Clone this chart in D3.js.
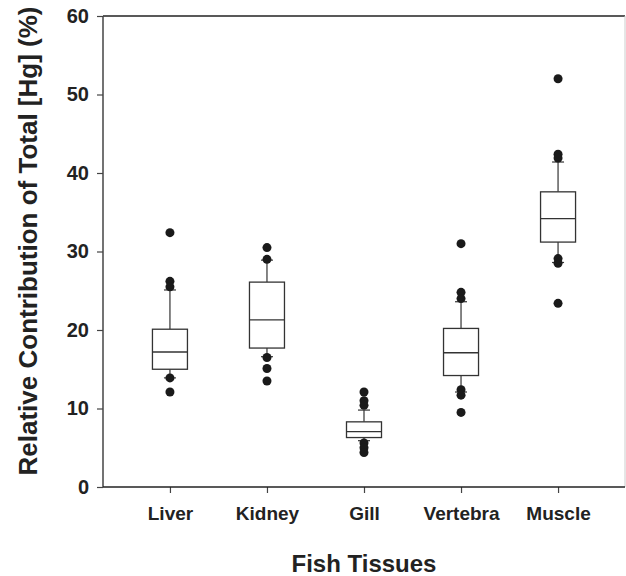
<!DOCTYPE html>
<html>
<head>
<meta charset="utf-8">
<script src="https://cdn.jsdelivr.net/npm/d3@7"></script>
<style>
  body { margin: 0; background: #fff; }
  svg text { font-family: "Liberation Sans", Arial, sans-serif; font-weight: bold; fill: #222; }
</style>
</head>
<body>
<div id="chart"></div>
<script>
// box plot values (%)
var categories = ["Liver", "Kidney", "Gill", "Vertebra", "Muscle"];
var whiskerLow  = [13.9, 16.6, 5.9, 12.1, 28.6];
var q1          = [15.0, 17.7, 6.3, 14.2, 31.2];
var median      = [17.2, 21.3, 7.05, 17.1, 34.2];
var q3          = [20.1, 26.1, 8.3, 20.2, 37.6];
var whiskerHigh = [25.1, 28.9, 9.8, 23.6, 41.4];
var outliers = [
  [32.4, 26.2, 25.5, 13.9, 12.1],
  [30.5, 29.0, 16.5, 15.1, 13.5],
  [12.1, 11.0, 10.4, 5.6, 5.0, 4.4],
  [31.0, 24.8, 24.0, 12.4, 11.7, 9.5],
  [52.0, 42.4, 41.9, 29.1, 28.5, 23.4]
];
var yTicks = [0, 10, 20, 30, 40, 50, 60];

plot_box_chart("#chart", 626, 576);

// draws the box plot into htmlObjectId
function plot_box_chart(htmlObjectId, width, height) {

    var margin = {top: 16, right: 1, bottom: 89, left: 103};
    var plotW = width - margin.left - margin.right,
        plotH = height - margin.top - margin.bottom;

    var boxes = categories.map(function(c, i) {
        return {name: c, lo: whiskerLow[i], q1: q1[i], med: median[i],
                q3: q3[i], hi: whiskerHigh[i], out: outliers[i]};
    });

    var y = d3.scaleLinear().domain([0, 60]).range([plotH, 0]);
    var x = d3.scalePoint().domain(categories).range([0, plotW]).padding(0.69);

    var boxW = 35, capW = 12;

    var svg = d3.select(htmlObjectId).append("svg")
        .attr("width", width)
        .attr("height", height);

    var g = svg.append("g")
        .attr("transform", "translate(" + margin.left + "," + margin.top + ")");

    // frame: top dark, right faint
    g.append("line").attr("x1", 0).attr("x2", plotW).attr("y1", 0).attr("y2", 0)
        .attr("stroke", "#222").attr("stroke-width", 1.5);
    g.append("line").attr("x1", plotW).attr("x2", plotW).attr("y1", 0).attr("y2", plotH)
        .attr("stroke", "#ccc").attr("stroke-width", 1);

    // axes
    var yaxis = d3.axisLeft(y).tickValues(yTicks).tickSize(6).tickPadding(8);
    var xaxis = d3.axisBottom(x).tickSize(6).tickPadding(13);

    var gy = g.append("g").attr("class", "axis y").call(yaxis);
    gy.selectAll("text").style("font-size", "20px");

    var gx = g.append("g").attr("class", "axis x")
        .attr("transform", "translate(0," + plotH + ")")
        .call(xaxis);
    gx.selectAll("text").style("font-size", "19px").attr("dy", "0.75em");

    svg.selectAll(".axis line").attr("stroke", "#444").attr("stroke-width", 1.2);
    svg.selectAll(".axis .domain").attr("d", null);
    // axis lines drawn separately (no end ticks)
    g.append("line").attr("x1", 0).attr("x2", 0).attr("y1", 0).attr("y2", plotH)
        .attr("stroke", "#444").attr("stroke-width", 1.5);
    g.append("line").attr("x1", 0).attr("x2", plotW).attr("y1", plotH).attr("y2", plotH)
        .attr("stroke", "#222").attr("stroke-width", 1.5);

    var bg = g.selectAll(".box").data(boxes).enter().append("g")
        .attr("class", "box")
        .attr("transform", function(d) { return "translate(" + x(d.name) + ",0)"; });

    // whiskers
    bg.append("line").attr("x1", 0).attr("x2", 0)
        .attr("y1", function(d) { return y(d.q3); })
        .attr("y2", function(d) { return y(d.hi); })
        .attr("stroke", "#333").attr("stroke-width", 1.2);
    bg.append("line").attr("x1", 0).attr("x2", 0)
        .attr("y1", function(d) { return y(d.q1); })
        .attr("y2", function(d) { return y(d.lo); })
        .attr("stroke", "#333").attr("stroke-width", 1.2);
    bg.append("line").attr("x1", -capW / 2).attr("x2", capW / 2)
        .attr("y1", function(d) { return y(d.hi); })
        .attr("y2", function(d) { return y(d.hi); })
        .attr("stroke", "#333").attr("stroke-width", 1.2);
    bg.append("line").attr("x1", -capW / 2).attr("x2", capW / 2)
        .attr("y1", function(d) { return y(d.lo); })
        .attr("y2", function(d) { return y(d.lo); })
        .attr("stroke", "#333").attr("stroke-width", 1.2);

    // box + median
    bg.append("rect")
        .attr("x", -boxW / 2).attr("width", boxW)
        .attr("y", function(d) { return y(d.q3); })
        .attr("height", function(d) { return y(d.q1) - y(d.q3); })
        .attr("fill", "#fff").attr("stroke", "#333").attr("stroke-width", 1.3);
    bg.append("line").attr("x1", -boxW / 2).attr("x2", boxW / 2)
        .attr("y1", function(d) { return y(d.med); })
        .attr("y2", function(d) { return y(d.med); })
        .attr("stroke", "#333").attr("stroke-width", 1.3);

    // outlier dots
    bg.selectAll("circle").data(function(d) { return d.out; })
      .enter().append("circle")
        .attr("cx", 0)
        .attr("cy", function(v) { return y(v); })
        .attr("r", 4.5)
        .attr("fill", "#1a1a1a");

    // axis titles
    svg.append("text")
        .attr("x", margin.left + x("Gill"))
        .attr("y", 572)
        .attr("text-anchor", "middle")
        .style("font-size", "24px")
        .text("Fish Tissues");

    svg.append("text")
        .attr("transform", "translate(37,241) rotate(-90)")
        .attr("text-anchor", "middle")
        .style("font-size", "26px")
        .text("Relative Contribution of Total [Hg] (%)");
}
</script>
</body>
</html>
